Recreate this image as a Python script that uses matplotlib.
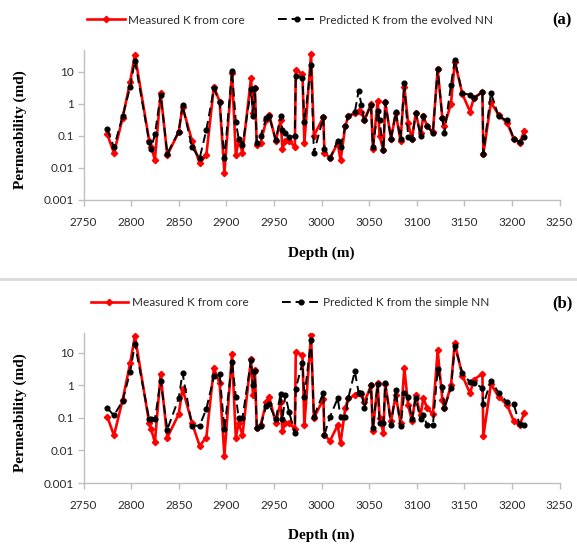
import matplotlib
matplotlib.use('Agg')
import matplotlib.pyplot as plt
from matplotlib.ticker import FixedLocator, NullLocator, FixedFormatter
from matplotlib.lines import Line2D

# ---------------- data ----------------
depth = [2775, 2782, 2791, 2799, 2804, 2819, 2821, 2825, 2831, 2838,
         2850, 2854, 2864, 2872, 2879, 2887, 2893, 2898, 2906, 2910,
         2913, 2917, 2926, 2928, 2930, 2932, 2936, 2942, 2945, 2952,
         2957, 2959, 2962, 2966, 2972, 2973, 2980, 2982, 2989, 2992,
         3002, 3003, 3009, 3017, 3020, 3025, 3028, 3035, 3039, 3042,
         3045, 3052, 3054, 3059, 3061, 3065, 3067, 3073, 3078, 3083,
         3087, 3091, 3095, 3099, 3104, 3107, 3111, 3117, 3122, 3127,
         3129, 3136, 3140, 3148, 3156, 3160, 3169, 3170, 3178, 3186,
         3195, 3202, 3208, 3213]

measured = [0.11, 0.029, 0.35, 4.8, 33, 0.07, 0.045, 0.018, 2.2, 0.025,
            0.13, 0.8, 0.07, 0.014, 0.025, 3.4, 1.16, 0.007, 9.0, 0.025,
            0.07, 0.03, 6.5, 0.5, 3.0, 0.05, 0.06, 0.3, 0.45, 0.07,
            0.3, 0.04, 0.07, 0.07, 0.045, 11, 8.5, 0.06, 35, 0.1,
            0.38, 0.03, 0.02, 0.06, 0.017, 0.2, 0.4, 0.5, 0.6, 0.55,
            0.3, 1.0, 0.04, 1.2, 0.1, 0.035, 1.1, 0.08, 0.5, 0.07,
            3.4, 0.25, 0.08, 0.5, 0.12, 0.4, 0.2, 0.13, 12, 0.35,
            0.2, 1.0, 20, 2.0, 0.57, 1.5, 2.3, 0.027, 1.1, 0.45,
            0.25, 0.08, 0.06, 0.14]

pred_evolved = [0.16, 0.044, 0.4, 3.3, 22, 0.066, 0.04, 0.11, 1.9, 0.028,
                0.135, 0.9, 0.044, 0.02, 0.15, 3.0, 1.1, 0.02, 10.5, 0.27,
                0.08, 0.05, 2.8, 0.4, 3.0, 0.06, 0.1, 0.35, 0.4, 0.075,
                0.4, 0.15, 0.12, 0.09, 0.1, 7.5, 6.2, 0.27, 16, 0.03,
                0.38, 0.04, 0.02, 0.07, 0.045, 0.2, 0.4, 0.55, 2.5, 0.9,
                0.3, 0.92, 0.044, 0.6, 0.3, 0.035, 1.1, 0.08, 0.55, 0.08,
                4.3, 0.095, 0.08, 0.5, 0.1, 0.4, 0.2, 0.12, 12, 0.35,
                0.12, 3.8, 23, 2.1, 1.9, 1.5, 2.3, 0.028, 2.2, 0.4,
                0.3, 0.08, 0.065, 0.09]

pred_simple = [0.20, 0.12, 0.33, 2.6, 19, 0.09, 0.09, 0.09, 1.4, 0.044,
               0.4, 2.4, 0.058, 0.058, 0.19, 1.9, 2.2, 0.045, 5.2, 0.45,
               0.1, 0.1, 6.0, 1.0, 2.7, 0.05, 0.055, 0.24, 0.26, 0.09,
               0.55, 0.09, 0.5, 0.15, 0.035, 0.8, 5.0, 0.44, 25, 0.11,
               0.6, 0.03, 0.11, 0.4, 0.11, 0.11, 0.4, 2.7, 0.6, 0.6,
               0.2, 1.0, 0.049, 1.1, 0.07, 0.07, 1.2, 0.06, 0.7, 0.055,
               0.6, 0.44, 0.09, 0.4, 0.09, 0.12, 0.06, 0.06, 3.1, 0.9,
               0.2, 0.84, 16, 2.4, 1.25, 1.2, 0.84, 0.26, 1.4, 0.6,
               0.3, 0.26, 0.065, 0.06]

x_ticks = [2750, 2800, 2850, 2900, 2950, 3000, 3050, 3100, 3150, 3200, 3250]
y_ticks = [0.001, 0.01, 0.1, 1, 10]
y_tick_labels = ['0.001', '0.01', '0.1', '1', '10']
panel_labels = ['(a)', '(b)']
pred_names = ['Predicted K from the evolved NN', 'Predicted K from the simple NN']
meas_name = 'Measured K from core'
x_title = 'Depth (m)'
y_title = 'Permeability (md)'

# ---------------- figure ----------------
W, H = 577, 546
fig = plt.figure(figsize=(W / 100, H / 100), dpi=100)

def fx(px):
    return px / W

def fy(py):
    return 1 - py / H

tick_font = 'Lato'
title_font = 'Liberation Serif'
grey = '#bfbfbf'
txt = '#2a2a2a'

panels = [
    dict(top=50, bottom=200, ytop=47, pred=pred_evolved, name=pred_names[0],
         legend_y=20, label=panel_labels[0], xlab_y=253),
    dict(top=333, bottom=483, ytop=41, pred=pred_simple, name=pred_names[1],
         legend_y=303, label=panel_labels[1], xlab_y=535),
]

left_px, right_px = 83.5, 559.5

for p in panels:
    ax = fig.add_axes([fx(left_px), fy(p['bottom']), fx(right_px - left_px),
                       (p['bottom'] - p['top']) / H])
    l1, = ax.plot(depth, measured, color='#ff0000', lw=1.9, marker='D', ms=3.2,
                  mec='#ff0000', mfc='#ff0000', zorder=2)
    l2, = ax.plot(depth, p['pred'], color='black', lw=1.4, ls=(0, (4.5, 2.5)),
                  marker='o', ms=3.4, mec='black', mfc='black', zorder=3)
    ax.set_yscale('log')
    ax.set_xlim(2750, 3250)
    ax.set_ylim(0.001, p['ytop'])
    ax.xaxis.set_major_locator(FixedLocator(x_ticks))
    ax.xaxis.set_minor_locator(NullLocator())
    ax.yaxis.set_major_locator(FixedLocator(y_ticks))
    ax.yaxis.set_major_formatter(FixedFormatter(y_tick_labels))
    ax.yaxis.set_minor_locator(NullLocator())
    for s in ['top', 'right']:
        ax.spines[s].set_visible(False)
    for s in ['left', 'bottom']:
        ax.spines[s].set_color(grey)
        ax.spines[s].set_linewidth(1.0)
    ax.tick_params(axis='both', direction='out', length=4, width=1, color=grey,
                   labelcolor=txt, labelsize=8.5)
    ax.tick_params(axis='x', pad=8)
    ax.tick_params(axis='y', pad=3)
    for lab in ax.get_xticklabels() + ax.get_yticklabels():
        lab.set_family(tick_font)
    ax.patch.set_visible(False)

    # axis titles
    fig.text(fx((left_px + right_px) / 2), fy(p['xlab_y']), x_title,
             family=title_font, weight='bold', fontsize=11, ha='center', va='center')
    fig.text(fx(20), fy((p['top'] + p['bottom']) / 2 + 5), y_title,
             family=title_font, weight='bold', fontsize=11, ha='center', va='center',
             rotation=90)

    # legend
    leg = fig.legend([l1, l2], [meas_name, p['name']], ncol=2, frameon=False,
                     loc='center', bbox_to_anchor=(fx(290), fy(p['legend_y'])),
                     prop=dict(family=tick_font, size=8.5), handlelength=3.2,
                     handletextpad=0.3, columnspacing=2.8, borderpad=0)
    for t in leg.get_texts():
        t.set_color(txt)

    # panel label
    fig.text(fx(562), fy(p['legend_y']), p['label'], family=title_font,
             weight='bold', fontsize=12, ha='center', va='center')

# separator between panels
fig.add_artist(Line2D([0, 1], [fy(279), fy(279)], color='#d9d9d9', lw=2,
                      transform=fig.transFigure))

fig.savefig('out.png', dpi=100)
